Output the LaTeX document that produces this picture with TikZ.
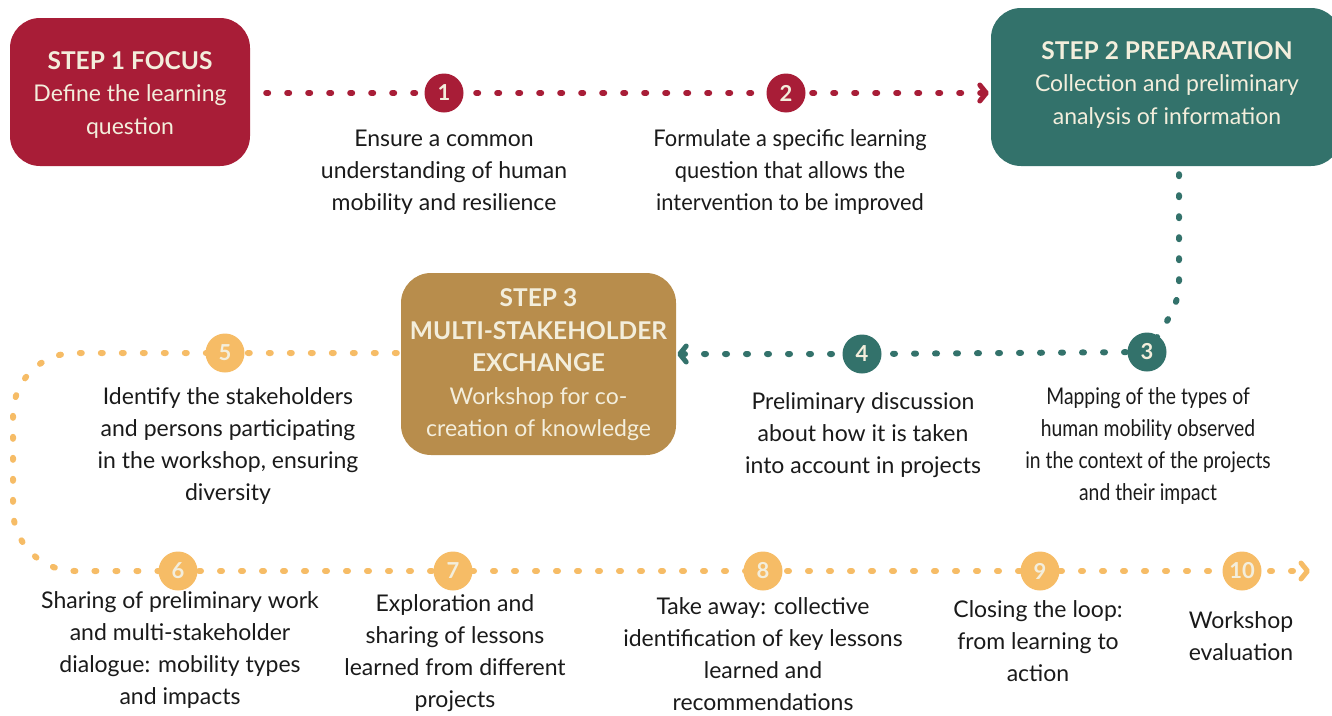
\documentclass[tikz,border=0pt]{standalone}
\usepackage{fontspec}
\setmainfont{Lato}
\newfontfamily\condensed[FakeStretch=0.95]{Lato}
\newfontfamily\narrowf[FakeStretch=0.84]{Lato}
\usetikzlibrary{arrows.meta,calc}
\definecolor{cred}{HTML}{A81D37}
\definecolor{cteal}{HTML}{33726B}
\definecolor{cgold}{HTML}{B88D4C}
\definecolor{corange}{HTML}{F6BC66}
\definecolor{ccream}{HTML}{F3EEDC}
\definecolor{ctext}{HTML}{1A1A1A}
\pgfdeclarelayer{bg}
\pgfsetlayers{bg,main}
\newcommand{\hdfont}{\bfseries\fontsize{24.5}{32.5}\selectfont}
\begin{document}
\begin{tikzpicture}[x=1pt,y=-1pt,
  stepbox/.style={rounded corners=30pt, inner sep=0pt},
  boxtext/.style={inner sep=0pt, text=ccream, align=center,
    font=\fontsize{23}{32.5}\selectfont},
  num/.style={circle, minimum size=39pt, inner sep=0pt, text=ccream,
    font=\bfseries\fontsize{22}{22}\selectfont},
  desc/.style={align=center, inner sep=0pt, text=ctext, font=\fontsize{23}{32}\selectfont},
  cdesc/.style={desc, font=\condensed\fontsize{23}{32}\selectfont},
  ndesc/.style={desc, font=\narrowf\fontsize{23}{32}\selectfont},
  dots/.style={line width=6pt, line cap=round, dash pattern=on 2pt off 19pt},
  tip/.style={-{Straight Barb[length=6.5pt,width=16pt,line width=5pt,round]}}
]
\useasboundingbox (0,0) rectangle (1332,715);

% step boxes
\node[stepbox, fill=cred, minimum width=240pt, minimum height=148pt] (s1) at (130,92) {};
\node[boxtext] (s1t) at ($(s1)+(0,3)$)
  {{\hdfont STEP 1 FOCUS}\\Define the learning\\question};
\node[stepbox, fill=cteal, minimum width=350pt, minimum height=158pt] (s2) at (1166,87) {};
\node[boxtext] (s2t) at ($(s2)+(1,-2)$)
  {{\hdfont STEP 2 PREPARATION}\\Collection and preliminary\\analysis of information};
\node[stepbox, fill=cgold, minimum width=275pt, minimum height=182pt] (s3) at (538.5,364) {};
\node[boxtext] (s3t) at ($(s3)+(0,1)$)
  {{\hdfont STEP 3}\\{\hdfont MULTI-STAKEHOLDER}\\{\hdfont EXCHANGE}\\Workshop for co-\\creation of knowledge};

% numbered circles
\node[num, fill=cred] (c1) at (444,93) {1};
\node[num, fill=cred] (c2) at (786,93) {2};
\node[num, fill=cteal] (c3) at (1147,352) {3};
\node[num, fill=cteal] (c4) at (862,354) {4};
\node[num, fill=corange] (c5) at (225,353) {5};
\node[num, fill=corange] (c6) at (178,571) {6};
\node[num, fill=corange] (c7) at (453,571) {7};
\node[num, fill=corange] (c8) at (763,571) {8};
\node[num, fill=corange] (c9) at (1040,571) {9};
\node[num, fill=corange] (c10) at (1242,571) {10};

% descriptions
\node[desc] (d1) at (444,172) {Ensure a common\\understanding of human\\mobility and resilience};
\node[cdesc] (d2) at (790,172) {Formulate a specific learning\\question that allows the\\intervention to be improved};
\node[ndesc] (d3) at (1148,446) {Mapping of the types of\\human mobility observed\\in the context of the projects\\and their impact};
\node[desc] (d4) at (863,435) {Preliminary discussion\\about how it is taken\\into account in projects};
\node[desc] (d5) at (228,446) {Identify the stakeholders\\and persons participating\\in the workshop, ensuring\\diversity};
\node[desc] (d6) at (180,650) {Sharing of preliminary work\\and multi-stakeholder\\dialogue: mobility types\\and impacts};
\node[desc] (d7) at (455,653) {Exploration and\\sharing of lessons\\learned from different\\projects};
\node[desc] (d8) at (763,654) {Take away: collective\\identification of key lessons\\learned and\\recommendations};
\node[desc] (d9) at (1038,641) {Closing the loop:\\from learning to\\action};
\node[desc] (d10) at (1241,636) {Workshop\\evaluation};

% helper coordinates
\coordinate (k1) at (13,353);
\coordinate (k2) at (13,571);
\coordinate (e10) at (1310,571);
\coordinate (t1) at ($(s2.south)+(13,8)$);
\coordinate (t2) at ($(s2.south)+(13,119)$);
\coordinate (t3) at ($(s2.south)+(13,136)$);

\begin{pgfonlayer}{bg}
  % red
  \draw[dots, cred, tip, shorten <=16pt, shorten >=2pt] (s1.east |- c1) -- (c1.center) -- (c2.center) -- (s2.west |- c1);
  % teal
  \draw[dots, cteal] (t1) -- (t2) .. controls (t3) and (1168,322) .. (c3.center);
  \draw[dots, cteal, tip, shorten >=1pt] (c3.center) -- (c4.center) -- (s3.east |- c4);
  % orange
  \draw[dots, corange, rounded corners=62pt] ($(s3.west |- c5)+(-4,0)$) -- (c5.center) -- (k1) -- (k2) -- (c6.center);
  \draw[dots, corange, tip] (c6.center) -- (c7.center) -- (c8.center) -- (c9.center) -- (c10.center) -- (e10);
\end{pgfonlayer}
\end{tikzpicture}
\end{document}
